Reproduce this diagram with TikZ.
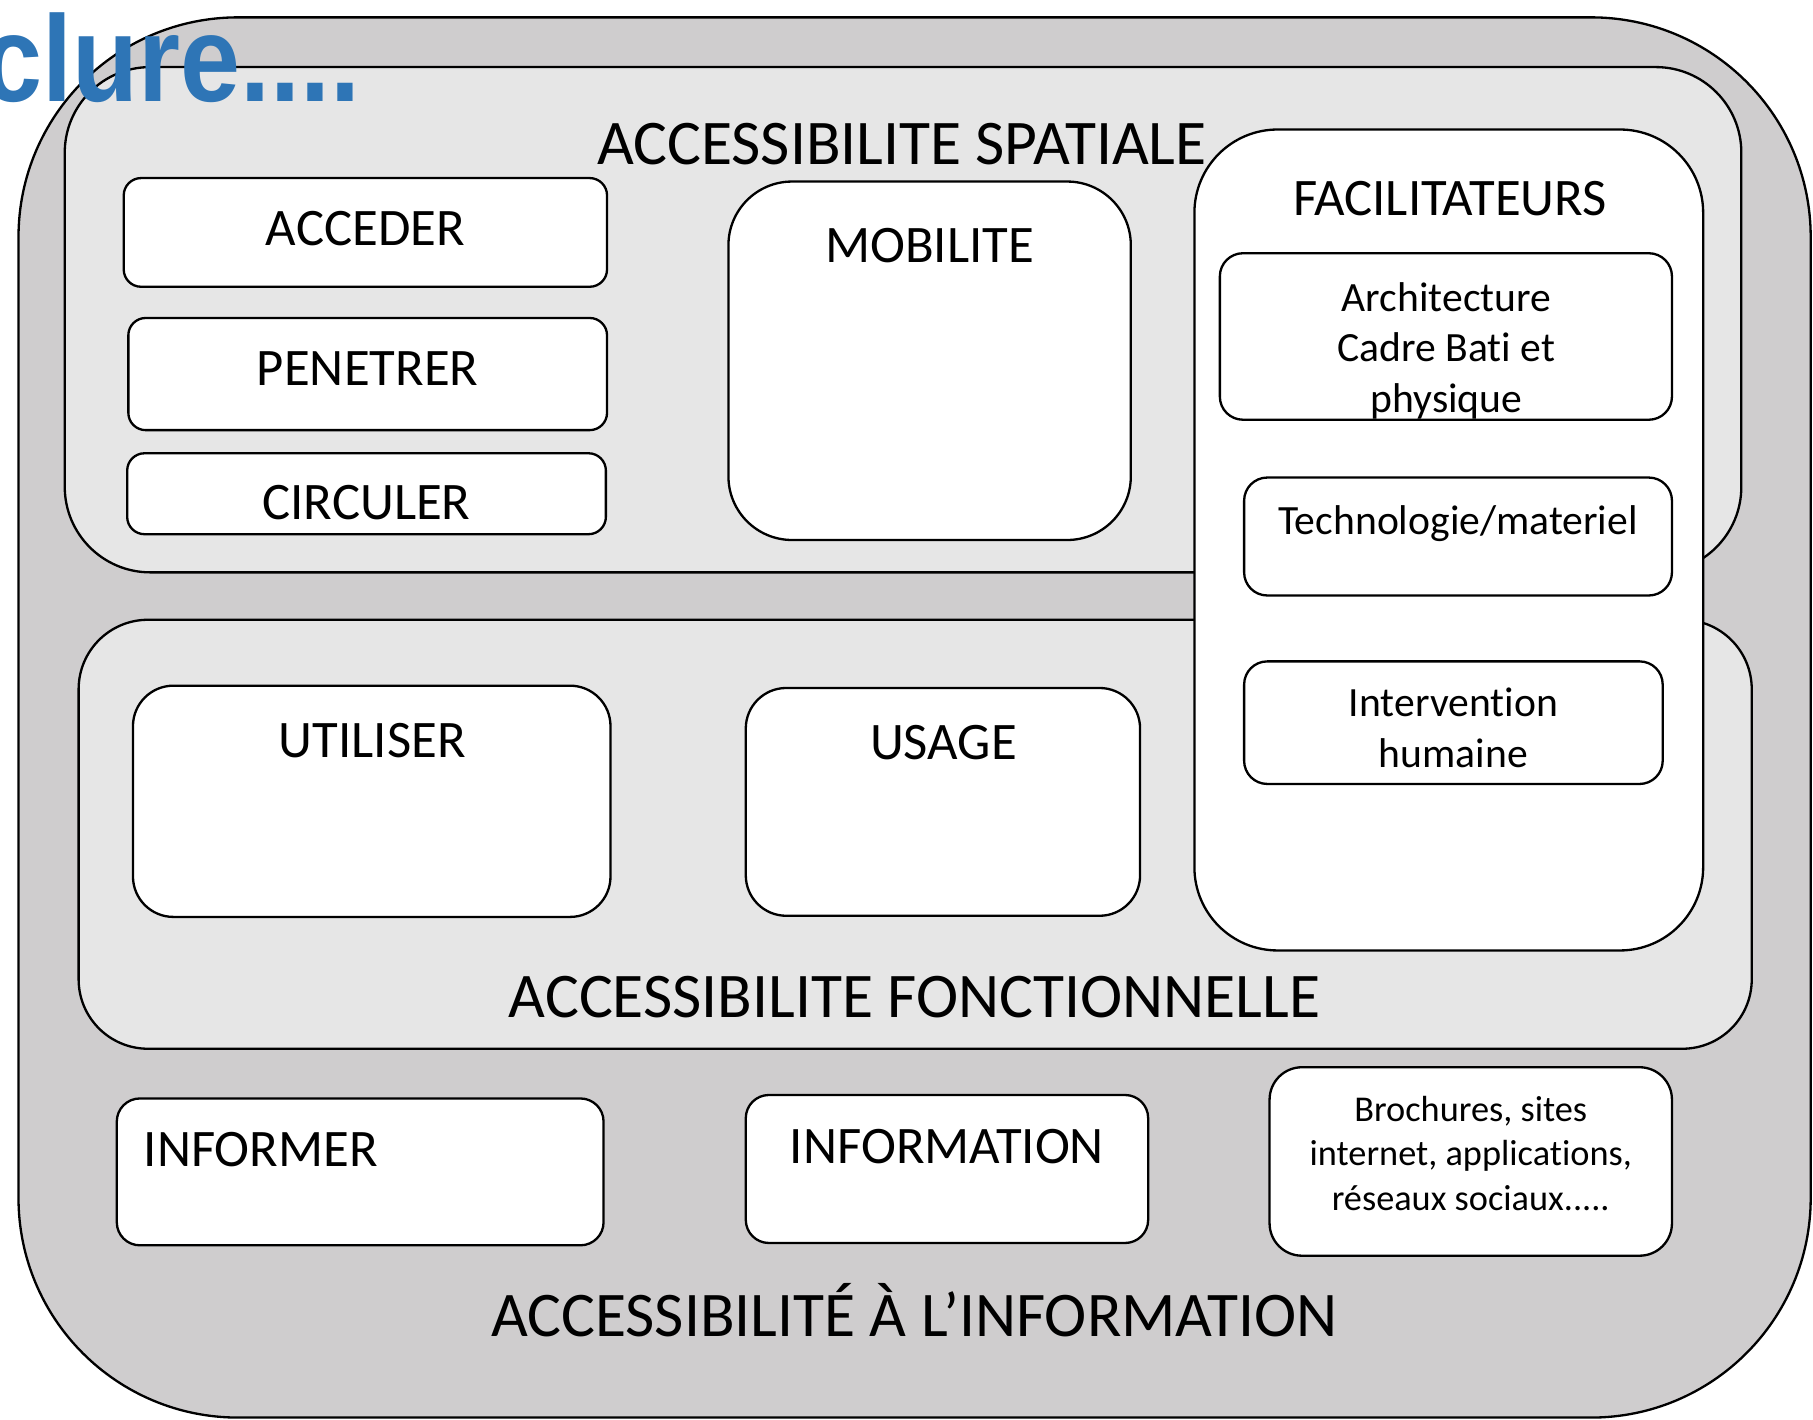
\documentclass[tikz,border=0pt]{standalone}
\usepackage{fontspec}
\setmainfont[Ligatures=NoCommon]{Carlito}
\newfontfamily\clurefont{Liberation Sans}
\usetikzlibrary{fit}
\definecolor{outergray}{RGB}{207,205,206}
\definecolor{zonegray}{RGB}{230,230,230}
\definecolor{clureblue}{RGB}{46,117,182}
\begin{document}
\begin{tikzpicture}[x=0.5pt,y=-0.5pt,
  frame/.style={draw=black, line width=1pt, inner sep=0pt, outer sep=0pt},
  outerbox/.style={frame, fill=outergray, rounded corners=95pt},
  zonebox/.style={frame, fill=zonegray},
  whitebox/.style={frame, fill=white},
  zonetitle/.style={font=\fontsize{27.5}{33}\selectfont, anchor=base, inner sep=0pt},
  lbl/.style={font=\fontsize{22.8}{27}\selectfont, anchor=base, inner sep=0pt},
  smalllbl/.style={font=\fontsize{18}{22}\selectfont, anchor=base, inner sep=0pt},
  tinylbl/.style={font=\fontsize{15.7}{19}\selectfont, anchor=base, inner sep=0pt},
]
\useasboundingbox (0,0) rectangle (1568,1228);
\clip (0,0) rectangle (1568,1228);

% zones
\node[outerbox, fit={(16,15)(1566,1226)}] (outer) {};
\node[zonebox, rounded corners=37pt, fit={(56,58)(1506,495)}] (spatial) {};
\node[zonebox, rounded corners=30pt, fit={(68,536)(1515,907)}] (fonct) {};

% spatial boxes
\node[whitebox, rounded corners=7.5pt, fit={(107,154)(525,248)}] (accB) {};
\node[whitebox, rounded corners=7.5pt, fit={(111,275)(525,372)}] (penB) {};
\node[whitebox, rounded corners=7.5pt, fit={(110,392)(524,462)}] (cirB) {};
\node[whitebox, rounded corners=27.5pt, fit={(630,157)(978,467)}] (mobB) {};

% functional boxes
\node[whitebox, rounded corners=17.5pt, fit={(115,593)(528,793)}] (utiB) {};
\node[whitebox, rounded corners=17.5pt, fit={(645,595)(986,792)}] (usaB) {};

% facilitateurs
\node[whitebox, rounded corners=36pt, fit={(1033,112)(1473,822)}] (facB) {};
\node[whitebox, rounded corners=10pt, fit={(1055,219)(1446,363)}] (archB) {};
\node[whitebox, rounded corners=10pt, fit={(1076,413)(1446,515)}] (techB) {};
\node[whitebox, rounded corners=10pt, fit={(1076,572)(1438,678)}] (interB) {};

% information boxes
\node[whitebox, rounded corners=10pt, fit={(101,950)(522,1077)}] (infB) {};
\node[whitebox, rounded corners=10pt, fit={(645,947)(993,1075)}] (infnB) {};
\node[whitebox, rounded corners=14pt, fit={(1098,923)(1446,1086)}] (brochB) {};

% texts
\node[zonetitle] (spatialT) at (780,142) {ACCESSIBILITE SPATIALE};
\node[zonetitle] (fonctT) at (791,880) {ACCESSIBILITE FONCTIONNELLE};
\node[zonetitle] (infoT) at (791,1156) {ACCESSIBILITÉ À L’INFORMATION};

\node[lbl] (accT) at (316,212) {ACCEDER};
\node[lbl] (penT) at (318,333) {PENETRER};
\node[lbl] (cirT) at (317,449) {CIRCULER};
\node[lbl] (mobT) at (804,227) {MOBILITE};
\node[lbl] (facT) at (1254,186) {FACILITATEURS};
\node[lbl] (utiT) at (322,655) {UTILISER};
\node[lbl] (usaT) at (816,657) {USAGE};
\node[lbl, anchor=base west] (infT) at (124,1009) {INFORMER};
\node[lbl] (infnT) at (819,1006) {INFORMATION};

\node[smalllbl] (archT1) at (1251,269) {Architecture};
\node[smalllbl] (archT2) at (1251,313) {Cadre Bati et};
\node[smalllbl] (archT3) at (1251,357) {physique};
\node[smalllbl] (techT) at (1261,462) {Technologie/materiel};
\node[smalllbl] (interT1) at (1257,620) {Intervention};
\node[smalllbl] (interT2) at (1257,664) {humaine};

\node[tinylbl] (brochT1) at (1272,970) {Brochures, sites};
\node[tinylbl] (brochT2) at (1272,1008) {internet, applications,};
\node[tinylbl] (brochT3) at (1272,1047) {réseaux sociaux.....};

% overlapping heading fragment
\node[font=\clurefont\bfseries\fontsize{53}{60}\selectfont, text=clureblue,
      anchor=base east, inner sep=0pt, xscale=0.88, transform shape] (clure) at (312,88) {clure....};
\end{tikzpicture}
\end{document}
